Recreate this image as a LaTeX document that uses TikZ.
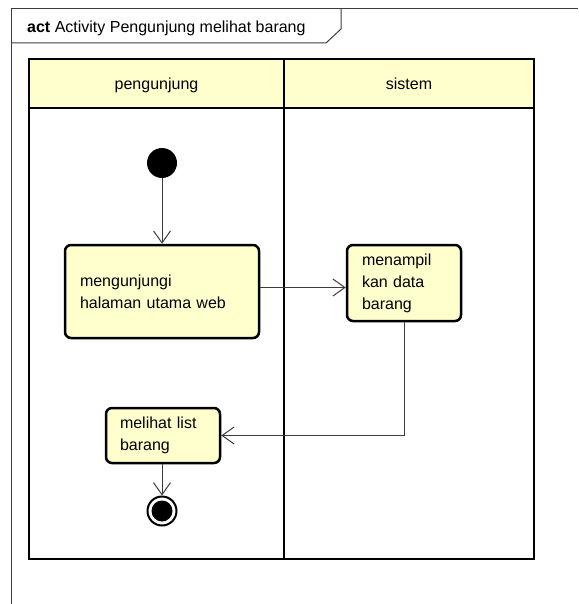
\documentclass[tikz,border=0pt]{standalone}
\usepackage{fontspec}
\setmainfont{Liberation Sans}
\usepackage{tikz}
\usetikzlibrary{arrows.meta}
\definecolor{actfill}{RGB}{255,255,206}
\definecolor{wire}{RGB}{60,60,60}

\begin{document}
\begin{tikzpicture}[x=1pt, y=-1pt,
    every node/.style={font=\fontsize{16}{22}\selectfont},
    lanehead/.style={draw, line width=2.5pt, fill=actfill, minimum height=49pt, inner sep=0pt, text depth=0pt},
    lanebody/.style={draw, line width=2.5pt, minimum height=451pt, inner sep=0pt},
    action/.style={draw, line width=2.5pt, fill=actfill, rounded corners=6pt, align=left, inner xsep=15pt, inner ysep=0pt},
    initial/.style={circle, fill=black, minimum size=30pt, inner sep=0pt},
    final/.style={circle, draw, line width=2pt, minimum size=29pt, inner sep=0pt,
      path picture={\fill (path picture bounding box.center) circle (10.5pt);}},
    flow/.style={draw=wire, line width=1pt, -{Straight Barb[length=12pt, width=17pt, line width=1pt]}}]
  \useasboundingbox (0,0) rectangle (578,604);

  % frame with its name tab
  \draw[wire, line width=1pt] (578,9) -- (11,9) -- (11,604);
  \draw[wire, line width=1pt] (11,43) -- (326,43) -- (341,29) -- (341,9);
  \node[anchor=west, inner sep=0pt] (title) at (27,28.5) {\textbf{act} Activity Pengunjung melihat barang};

  % swimlanes
  \node[lanebody, minimum width=255pt] (laneA) at (156.5,333.5) {};
  \node[lanebody, minimum width=250pt] (laneB) at (409,333.5) {};
  \node[lanehead, minimum width=255pt] (headA) at (156.5,83.5) {pengunjung};
  \node[lanehead, minimum width=250pt] (headB) at (409,83.5) {sistem};

  % activity nodes
  \node[initial] (start) at (162,163) {};
  \node[action, text width=164pt, minimum height=93pt] (act1) at (162,291.5)
    {mengunjungi\\halaman utama web};
  \node[action, text width=84pt, minimum height=76pt] (act2) at (404,283)
    {menampil\\kan data\\barang};
  \node[action, inner xsep=14pt, text width=86pt, minimum height=55pt] (act3) at (163,435.5)
    {melihat list\\barang};
  \node[final] (end) at (162,511) {};

  % control flows
  \draw[flow] (start) -- (act1);
  \draw[flow] (act1.east) ++(0,-4) coordinate (a1) -- (act2.west |- a1);
  \draw[flow] (act2) |- (act3);
  \draw[flow] (act3.south -| end) -- (end);
\end{tikzpicture}
\end{document}
